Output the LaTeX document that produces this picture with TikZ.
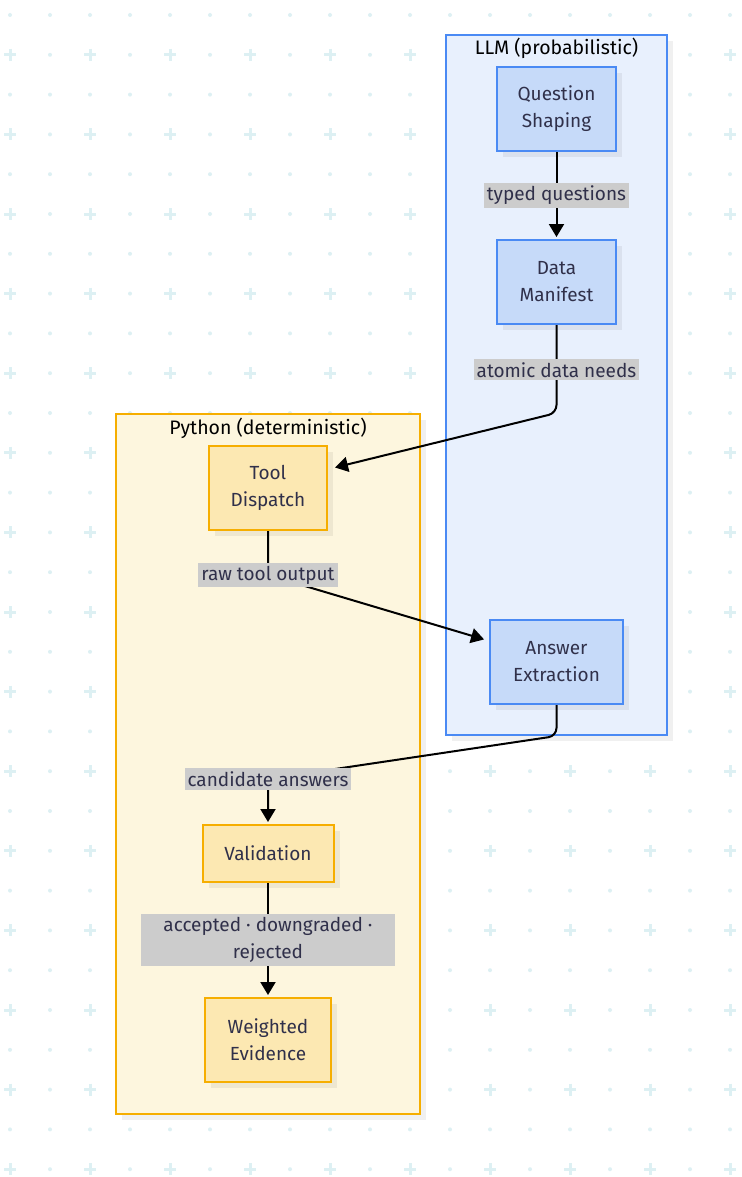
\documentclass[tikz,border=0pt]{standalone}
\usepackage{fontspec}
\setmainfont{Fira Sans}
\usepackage{xcolor}
\usepackage{tikz}
\usetikzlibrary{arrows.meta}
\usetikzlibrary{shadows}

\definecolor{gridcyan}{HTML}{DDF0F3}
\definecolor{llmfill}{HTML}{E8F0FD}
\definecolor{llmline}{HTML}{4A8AF4}
\definecolor{llmnode}{HTML}{C6DAF9}
\definecolor{pyfill}{HTML}{FDF6DE}
\definecolor{pyline}{HTML}{F6AE00}
\definecolor{pynode}{HTML}{FCE8B2}
\definecolor{labelgray}{HTML}{CCCCCC}
\definecolor{inktext}{HTML}{30304A}

\begin{document}
\begin{tikzpicture}[
    x=1pt, y=-1pt,
    % Flat shadow used by every box
    soft shadow/.style={general shadow={shadow xshift=6pt, shadow yshift=-6pt, fill=black, fill opacity=0.06}},
    % Cluster frames
    llm cluster/.style={rectangle, draw=llmline, line width=2pt, fill=llmfill, soft shadow, minimum width=221pt, minimum height=700pt},
    py cluster/.style={rectangle, draw=pyline, line width=2pt, fill=pyfill, soft shadow, minimum width=304pt, minimum height=700pt},
    cluster title/.style={font=\fontsize{19.5}{22}\selectfont, text=black},
    % Process boxes
    box text/.style={font=\fontsize{19}{27}\selectfont, text=inktext, align=center, inner sep=0pt},
    llm node/.style={rectangle, box text, draw=llmline, line width=2pt, fill=llmnode, soft shadow, minimum height=84pt},
    py node/.style={rectangle, box text, draw=pyline, line width=2pt, fill=pynode, soft shadow, minimum height=84pt},
    % Connectors and their labels
    my edge/.style={-{Triangle[length=13pt, width=15pt]}, line width=2pt, draw=black, shorten >=2pt},
    edge label/.style={sharp corners, fill=labelgray, font=\fontsize{19}{27}\selectfont, text=inktext, align=center, inner xsep=3pt, inner ysep=3pt}
  ]

  \useasboundingbox (0,0) rectangle (741,1177);
  \fill[white] (0,0) rectangle (741,1177);

  % --- Background grid ---
  \foreach \i in {0,...,29}{
    \foreach \j in {0,...,18}{
      \pgfmathsetmacro\gx{10+40*\j}
      \pgfmathsetmacro\gy{15+39.8*\i}
      \ifodd\i
        \ifodd\j
          \fill[gridcyan] (\gx,\gy) circle (2pt);
        \else
          \draw[gridcyan, line width=3pt] (\gx-6,\gy) -- (\gx+6,\gy) (\gx,\gy-6) -- (\gx,\gy+6);
        \fi
      \else
        \fill[gridcyan] (\gx,\gy) circle (2pt);
      \fi
    }
  }

  % --- Clusters ---
  \node[llm cluster] (llm) at (556.5,385) {};
  \node[cluster title] (llmtitle) at (556.5,48) {LLM (probabilistic)};
  \node[py cluster] (py) at (268,764) {};
  \node[cluster title] (pytitle) at (268,428) {Python (deterministic)};

  % --- Node Definitions ---
  \node[llm node, minimum width=119pt] (qs) at (556.5,109) {Question\\Shaping};
  \node[llm node, minimum width=119pt] (dm) at (556.5,282) {Data\\Manifest};
  \node[llm node, minimum width=133pt] (ae) at (556.5,662) {Answer\\Extraction};
  \node[py node, minimum width=118pt] (td) at (268,488) {Tool\\Dispatch};
  \node[py node, minimum width=131pt, minimum height=57pt] (val) at (268,853.5) {Validation};
  \node[py node, minimum width=126pt] (we) at (268,1040) {Weighted\\Evidence};

  % --- Bend points ---
  \coordinate (dmturn) at (556.5,413);
  \coordinate (tdturn) at (268,575);
  \coordinate (aeturn) at (556.5,736);
  \coordinate (valturn) at (268,779);

  % --- Edge Definitions ---
  \begin{scope}[my edge]
    \draw (qs) -- node[edge label] {typed questions} (dm);
    \draw[rounded corners=8pt] (dm) -- node[edge label, pos=0.51] {atomic data needs} (dmturn) -- ([shift={(5,-20)}]td.east);
    \draw (td) -- (tdturn) node[edge label] {raw tool output} -- ([shift={(-3,-22)}]ae.west);
    \draw[rounded corners=8pt] (ae) -- (aeturn) -- (valturn) node[edge label] {candidate answers} -- (val);
    \draw (val) -- node[edge label, minimum width=254pt] {accepted · downgraded ·\\rejected} (we);
  \end{scope}

\end{tikzpicture}
\end{document}
